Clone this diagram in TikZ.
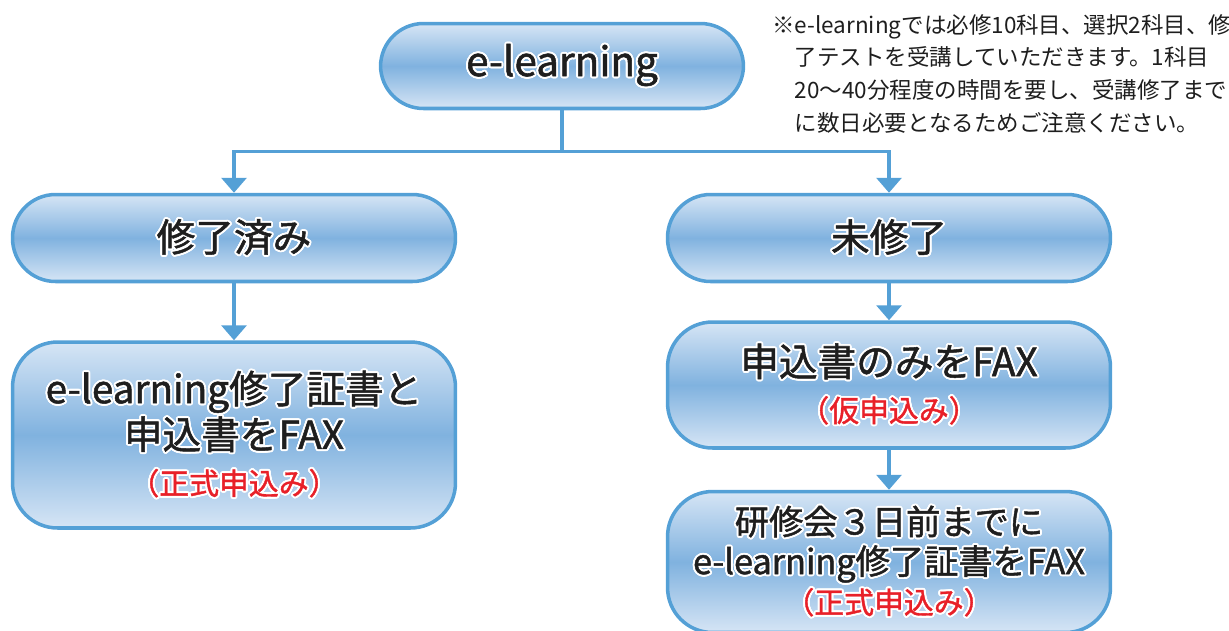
\documentclass[tikz,border=0pt]{standalone}
\usepackage{fontspec}
\setmainfont{Noto Sans CJK JP}
\newfontfamily\boxfont{Noto Sans CJK JP}[FakeBold=1.3]
\usepackage[copies]{contour}
\contourlength{1.1pt}
\usetikzlibrary{arrows.meta,positioning}
\definecolor{bordr}{RGB}{84,160,214}
\definecolor{boxlt}{RGB}{214,229,245}
\definecolor{boxdk}{RGB}{128,178,223}
\definecolor{txt}{RGB}{30,30,30}
\definecolor{redtxt}{RGB}{232,32,40}
\newcommand{\halo}[1]{\contour{white}{#1}}
\newcommand{\red}[1]{{\color{redtxt}\fontsize{17}{21}\selectfont\contour{white}{#1}}}
\newcommand{\noteline}[2]{\makebox[#1][s]{#2}}
\XeTeXlinebreaklocale "ja"
\XeTeXlinebreakskip=0pt plus 4pt

\begin{document}
\begin{tikzpicture}[x=0.02cm,y=-0.02cm,
	pill/.style={draw=bordr,line width=2pt,rounded corners=0.86cm,
		top color=boxlt,bottom color=boxlt,middle color=boxdk,
		minimum width=8.86cm,minimum height=1.74cm,inner sep=0pt,
		text=txt,align=center,font=\boxfont\fontsize{22}{26}\selectfont},
	rbox/.style={pill,rounded corners=0.9cm},
	arr/.style={draw=bordr,line width=1.9pt,-{Triangle[width=0.5cm,length=0.3cm]}},
	note/.style={inner sep=0pt,align=left,text=txt,font=\fontsize{12.8}{18.6}\selectfont}]
	\useasboundingbox (0,0) rectangle (1229,630);
	\node [pill, minimum width=7.26cm, minimum height=1.7cm, font=\boxfont\fontsize{23}{26}\selectfont] (elearn) at (562,66) {\halo{e-learning}};
	\node [pill] (done) at (234,238) {\halo{修了済み}};
	\node [pill] (notyet) at (889,238) {\halo{未修了}};
	\node [rbox, minimum height=3.72cm] (fax1) at (234,435) {\halo{e-learning修了証書と}\\\halo{申込書をFAX}\\\red{（正式申込み）}};
	\node [rbox, minimum height=2.52cm] (fax2) at (889,385) {\halo{申込書のみをFAX}\\\red{（仮申込み）}};
	\node [rbox, minimum height=2.82cm, font=\boxfont\fontsize{19.5}{22.5}\selectfont] (fax3) at (889,562) {\halo{研修会３日前までに}\\\halo{e-learning修了証書をFAX}\\\red{（正式申込み）}};
	\node [note, anchor=north west] (memo) at (772,14) {\noteline{9cm}{※e-learningでは必修10科目、選択2科目、修}\\
		\phantom{※}\noteline{8.64cm}{了テストを受講していただきます。1科目}\\
		\phantom{※}\noteline{8.64cm}{20〜40分程度の時間を要し、受講修了まで}\\
		\phantom{※}に数日必要となるためご注意ください。};
	\draw [draw=bordr,line width=1.9pt] (elearn.south) -- ++(0,41) coordinate (split);
	\draw [arr] (split) -| (done.north);
	\draw [arr] (split) -| (notyet.north);
	\draw [arr] (done) -- (fax1);
	\draw [arr] (notyet) -- (fax2);
	\draw [arr] (fax2) -- (fax3);
\end{tikzpicture}
\end{document}
